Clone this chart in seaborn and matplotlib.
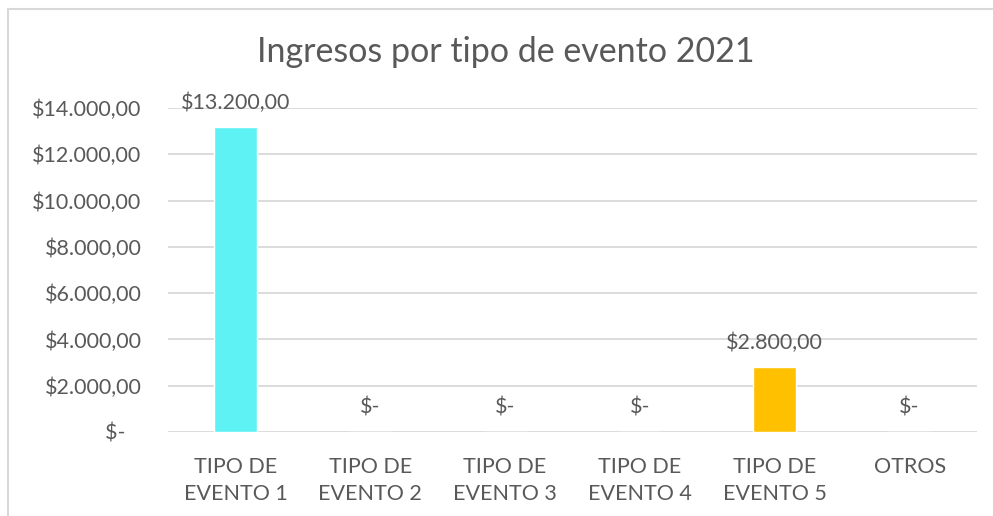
import matplotlib
matplotlib.use("Agg")
import matplotlib.pyplot as plt
import seaborn as sns
import pandas as pd
from matplotlib.patches import Rectangle

categories = ["TIPO DE\nEVENTO 1", "TIPO DE\nEVENTO 2", "TIPO DE\nEVENTO 3",
              "TIPO DE\nEVENTO 4", "TIPO DE\nEVENTO 5", "OTROS"]
values = [13200, 0, 0, 0, 2800, 0]
bar_colors = ["#5EF2F5", "#A5A5A5", "#A5A5A5", "#A5A5A5", "#FFC000", "#A5A5A5"]
y_ticks = [0, 2000, 4000, 6000, 8000, 10000, 12000, 14000]
title = "Ingresos por tipo de evento 2021"

def fmt(v):
    if v == 0:
        return "$-"
    s = f"{v:,.2f}"
    s = s.replace(",", "X").replace(".", ",").replace("X", ".")
    return "$" + s

sns.set_theme(style="white")
plt.rcParams["font.family"] = ["Lato", "DejaVu Sans"]
text_color = "#595959"
fs = 15.5

df = pd.DataFrame({"cat": categories, "val": values})

fig = plt.figure(figsize=(9.93, 5.16), dpi=100)
ax = fig.add_axes([168/993, 1-432/516, (977-168)/993, (432-108)/516])

sns.barplot(data=df, x="cat", y="val", hue="cat", palette=bar_colors,
            width=0.32, legend=False, ax=ax, saturation=1)

ax.set_xlim(-0.5, 5.5)
ax.set_ylim(0, 14000)
ax.set_yticks(y_ticks)
ax.set_yticklabels([fmt(v) if v else "$-   " for v in y_ticks])
ax.yaxis.grid(True, color="#D9D9D9", linewidth=1.3)
ax.set_axisbelow(True)
for s in ax.spines.values():
    s.set_visible(False)
ax.tick_params(axis="y", length=0, pad=19, labelsize=fs, labelcolor=text_color)
ax.tick_params(axis="x", length=0, pad=18, labelsize=fs, labelcolor=text_color)
for lbl in ax.get_xticklabels():
    lbl.set_linespacing(1.45)
ax.set_xlabel("")
ax.set_ylabel("")

for i, v in enumerate(values):
    ax.annotate(fmt(v), xy=(i, v), xytext=(0, 10 if v else 18), textcoords="offset points",
                ha="center", va="bottom" if v else "center", fontsize=fs,
                color=text_color, annotation_clip=False)

fig.text(506/993, 1-52/516, title, ha="center", va="center", fontsize=24.5, color=text_color)

fig.patches.append(Rectangle((8/993, -0.1), 1.2, 1-9/516+0.1, transform=fig.transFigure,
                             fill=False, edgecolor="#D9D9D9", linewidth=1.5))

fig.savefig("out.png", dpi=100)
